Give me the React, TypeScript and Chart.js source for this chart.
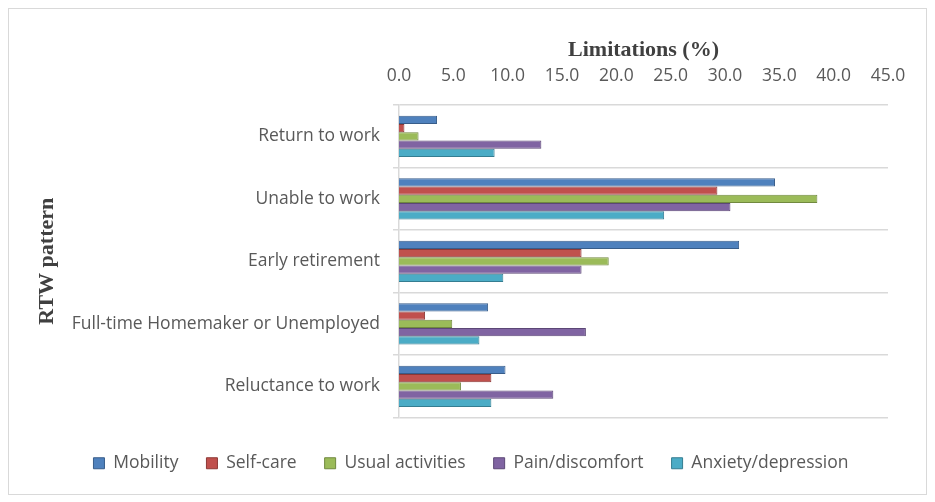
import { useEffect, useRef } from 'react';
import { Chart, registerables } from 'chart.js';

Chart.register(...registerables);

const categories = [
  'Return to work',
  'Unable to work',
  'Early retirement',
  'Full-time Homemaker or Unemployed',
  'Reluctance to work',
];

const mobility = [3.5, 34.6, 31.3, 8.2, 9.8];
const selfCare = [0.5, 29.3, 16.8, 2.4, 8.5];
const usualActivities = [1.8, 38.5, 19.3, 4.9, 5.7];
const painDiscomfort = [13.1, 30.5, 16.8, 17.2, 14.2];
const anxietyDepression = [8.8, 24.4, 9.6, 7.4, 8.5];

const xTicksMax = 45;
const xTickStep = 5;

const textColor = '#595959';
const gridColor = '#d9d9d9';
const labelFont = { family: '"Open Sans", sans-serif', size: 17.5 };
const titleFont = { family: '"Liberation Serif", "Times New Roman", serif', size: 22, weight: 'bold' as const };

export default function App() {
  const canvasRef = useRef<HTMLCanvasElement>(null);
  const chartRef = useRef<Chart | null>(null);

  useEffect(() => {
    if (!canvasRef.current) return;
    if (chartRef.current) chartRef.current.destroy();

    const series = [
      { label: 'Mobility', data: mobility, fill: '#4f81bd', line: '#385d8a' },
      { label: 'Self-care', data: selfCare, fill: '#c0504d', line: '#8c3836' },
      { label: 'Usual activities', data: usualActivities, fill: '#9bbb59', line: '#71893f' },
      { label: 'Pain/discomfort', data: painDiscomfort, fill: '#8064a2', line: '#5c4776' },
      { label: 'Anxiety/depression', data: anxietyDepression, fill: '#4bacc6', line: '#357d91' },
    ];

    chartRef.current = new Chart(canvasRef.current, {
      type: 'bar',
      data: {
        labels: categories,
        datasets: series.map((s) => ({
          label: s.label,
          data: s.data,
          xAxisID: 'x',
          yAxisID: 'y',
          backgroundColor: s.fill,
          borderColor: s.line,
          borderWidth: 1,
          categoryPercentage: 0.66,
          barPercentage: 1.0,
        })),
      },
      options: {
        indexAxis: 'y',
        animation: false,
        responsive: true,
        maintainAspectRatio: false,
        layout: { padding: { left: 7, right: 0, top: 0, bottom: 12 } },
        scales: {
          x: {
            type: 'linear',
            position: 'top',
            min: 0,
            max: xTicksMax,
            afterFit: (scale) => {
              scale.height = 96;
            },
            ticks: {
              stepSize: xTickStep,
              color: textColor,
              font: labelFont,
              padding: 18,
              callback: (v) => Number(v).toFixed(1),
            },
            grid: { display: false, drawTicks: false },
            border: { display: false },
            title: {
              display: true,
              text: 'Limitations (%)',
              color: '#404040',
              font: titleFont,
              padding: { top: 28, bottom: 0 },
            },
          },
          y: {
            type: 'category',
            afterFit: (scale) => {
              scale.width = 383;
            },
            ticks: {
              color: textColor,
              font: labelFont,
              padding: 13,
            },
            grid: {
              offset: true,
              color: gridColor,
              lineWidth: 1.5,
              drawTicks: true,
              tickLength: 6,
            },
            border: { display: true, color: gridColor, width: 1.5 },
            title: {
              display: true,
              text: 'RTW pattern',
              color: '#404040',
              font: titleFont,
              padding: { top: 18, bottom: 0 },
            },
          },
          // empty spacer boxes that keep room below and right of the plot
          xSpacer: {
            type: 'linear',
            position: 'bottom',
            display: true,
            afterFit: (scale) => {
              scale.height = 9;
            },
            ticks: { display: false },
            grid: { display: false, drawTicks: false },
            border: { display: false },
          },
          ySpacer: {
            type: 'linear',
            position: 'right',
            display: true,
            afterFit: (scale) => {
              scale.width = 38;
            },
            ticks: { display: false },
            grid: { display: false, drawTicks: false },
            border: { display: false },
          },
        },
        plugins: {
          legend: {
            position: 'bottom',
            labels: {
              boxWidth: 11,
              boxHeight: 11,
              padding: 28,
              color: textColor,
              font: labelFont,
            },
          },
          tooltip: { enabled: false },
        },
      },
    });

    return () => {
      if (chartRef.current) {
        chartRef.current.destroy();
        chartRef.current = null;
      }
    };
  }, []);

  return (
    <div
      style={{
        width: '919px',
        height: '487px',
        border: '1px solid #d9d9d9',
        boxSizing: 'border-box',
        background: '#ffffff',
      }}
    >
      <div style={{ position: 'relative', width: '917px', height: '485px' }}>
        <canvas ref={canvasRef} />
      </div>
    </div>
  );
}
